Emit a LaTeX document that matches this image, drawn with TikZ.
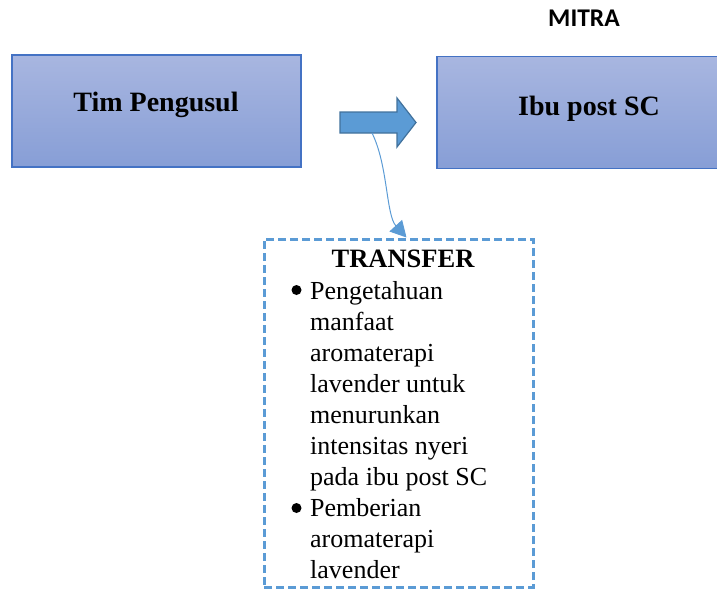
\documentclass[tikz,border=0pt]{standalone}
\usepackage{fontspec}
\setmainfont{Liberation Serif}
\newfontfamily\mitrafont{Carlito}
\usepackage{xcolor}
\usetikzlibrary{arrows.meta}

\definecolor{boxtop}{RGB}{168,182,224}
\definecolor{boxbot}{RGB}{135,158,214}
\definecolor{boxline}{RGB}{68,114,196}
\definecolor{arrowfill}{RGB}{91,155,213}
\definecolor{arrowline}{RGB}{65,113,156}

\begin{document}
\begin{tikzpicture}[x=1pt,y=-1pt]
 \tikzstyle{party} = [draw=boxline,line width=1.5pt,top color=boxtop,bottom color=boxbot,
                      minimum width=289pt,minimum height=112pt,inner sep=0pt]
 \tikzstyle{partytext} = [font=\fontsize{28}{32}\selectfont\bfseries,inner sep=0pt]
 \tikzstyle{dashbox} = [draw=arrowfill,line width=3pt,dash pattern=on 8pt off 4pt,
                        minimum width=269pt,minimum height=348pt,inner sep=0pt]
 \tikzstyle{listtext} = [font=\fontsize{26}{31}\selectfont,align=left,inner sep=0pt]
 \tikzstyle{listdot} = [circle,fill=black,minimum size=10pt,inner sep=0pt]
 \tikzstyle{link} = [draw=arrowfill,line width=1pt,-{Triangle[width=17pt,length=16pt]}]

 \clip (0,0) rectangle (717,590);

 \node[font=\mitrafont\fontsize{25.5}{30}\selectfont\bfseries,inner sep=0pt] (mitra) at (584,18) {MITRA};

 \node[party] (tim) at (156.5,111) {};
 \node[partytext,anchor=base] (timlabel) at (156,111) {Tim Pengusul};
 \node[party,minimum width=310pt] (ibu) at (592,112.5) {};
 \node[partytext,anchor=base] (ibulabel) at (589,115) {Ibu post SC};

 % block arrow between the two parties
 \draw[fill=arrowfill,draw=arrowline,line width=1.2pt]
   (340,112) -- (397,112) -- (397,98) -- (416,122.5) -- (397,147) -- (397,133) -- (340,133) -- cycle;
 \coordinate (arrowfoot) at (372,133);

 \node[dashbox] (transfer) at (398.5,413) {};
 \node[font=\fontsize{26.5}{31}\selectfont\bfseries,anchor=base,inner sep=0pt] (title) at (403,267) {TRANSFER};

 \node[listdot] (dot1) at (296.5,290) {};
 \node[listtext,anchor=north west] (item1) at (310,281)
   {Pengetahuan\\manfaat\\aromaterapi\\lavender untuk\\menurunkan\\intensitas nyeri\\pada ibu post SC};
 \node[listdot] (dot2) at (296.5,508) {};
 \node[listtext,anchor=north west] (item2) at (310,498)
   {Pemberian\\aromaterapi\\lavender};

 \draw[link] (arrowfoot) .. controls (388,165) and (386,215) .. ([xshift=8pt]transfer.north);
\end{tikzpicture}
\end{document}
